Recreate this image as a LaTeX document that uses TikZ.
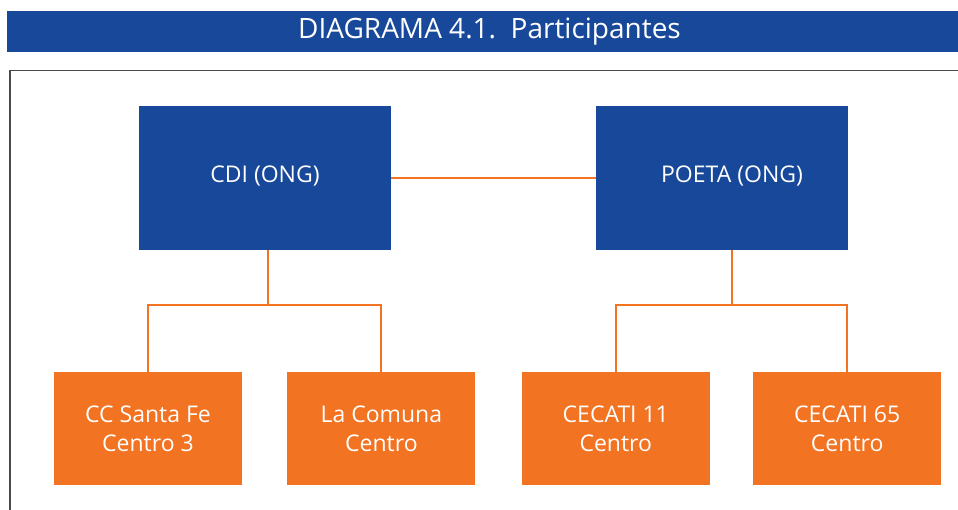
\documentclass[tikz,border=0pt]{standalone}
\usepackage{fontspec}
\setmainfont{Open Sans}
\usepackage{xcolor}
\usepackage{tikz}
\usetikzlibrary{positioning,calc}
\definecolor{titleblue}{HTML}{17489A}
\definecolor{siteorange}{HTML}{F27321}
\definecolor{framegray}{HTML}{4A4A4A}

\begin{document}
\begin{tikzpicture}[
    x=1pt, y=-1pt,
    node distance=45pt,
    titlebar/.style={fill=titleblue, text=white, minimum width=951pt, minimum height=41pt, inner sep=0pt, font=\fontsize{28}{30}\selectfont},
    orgbox/.style={fill=titleblue, text=white, minimum width=252pt, minimum height=144pt, align=center, inner sep=0pt, font=\fontsize{23}{29}\selectfont},
    sitebox/.style={fill=siteorange, text=white, minimum width=188pt, minimum height=113pt, align=center, inner sep=0pt, font=\fontsize{23}{29}\selectfont},
    link/.style={draw=siteorange, line width=2pt}
]
\useasboundingbox (0,0) rectangle (958,510);
\node[titlebar] (title) at (482.5,31.5) {\hspace*{14pt}DIAGRAMA 4.1.\ \ Participantes};
\draw[framegray, line width=1.3pt] (958,70.7) -- (10,70.7) -- (10,510);

\node[orgbox] (cdi) at (265,178) {\raisebox{8pt}{CDI (ONG)}};
\node[orgbox] (poeta) at (722,178) {\raisebox{8pt}{\hspace*{20pt}POETA (ONG)}};

\node[sitebox] (ccsf) at (148,428.5) {CC Santa Fe\\Centro 3};
\node[sitebox, right=of ccsf] (comuna) {La Comuna\\Centro};
\node[sitebox, right=46pt of comuna] (cecati11) {CECATI 11\\Centro};
\node[sitebox, right=43pt of cecati11] (cecati65) {CECATI 65\\Centro};

\coordinate (cdijoin) at (268,305);
\coordinate (poetajoin) at (732,305);

\draw[link] (cdi) -- (poeta);
\draw[link] (cdi.south -| cdijoin) -- (cdijoin);
\draw[link] (ccsf.north) |- (cdijoin) -| (comuna.north);
\draw[link] (poeta.south -| poetajoin) -- (poetajoin);
\draw[link] (cecati11.north) |- (poetajoin) -| (cecati65.north);
\end{tikzpicture}
\end{document}
